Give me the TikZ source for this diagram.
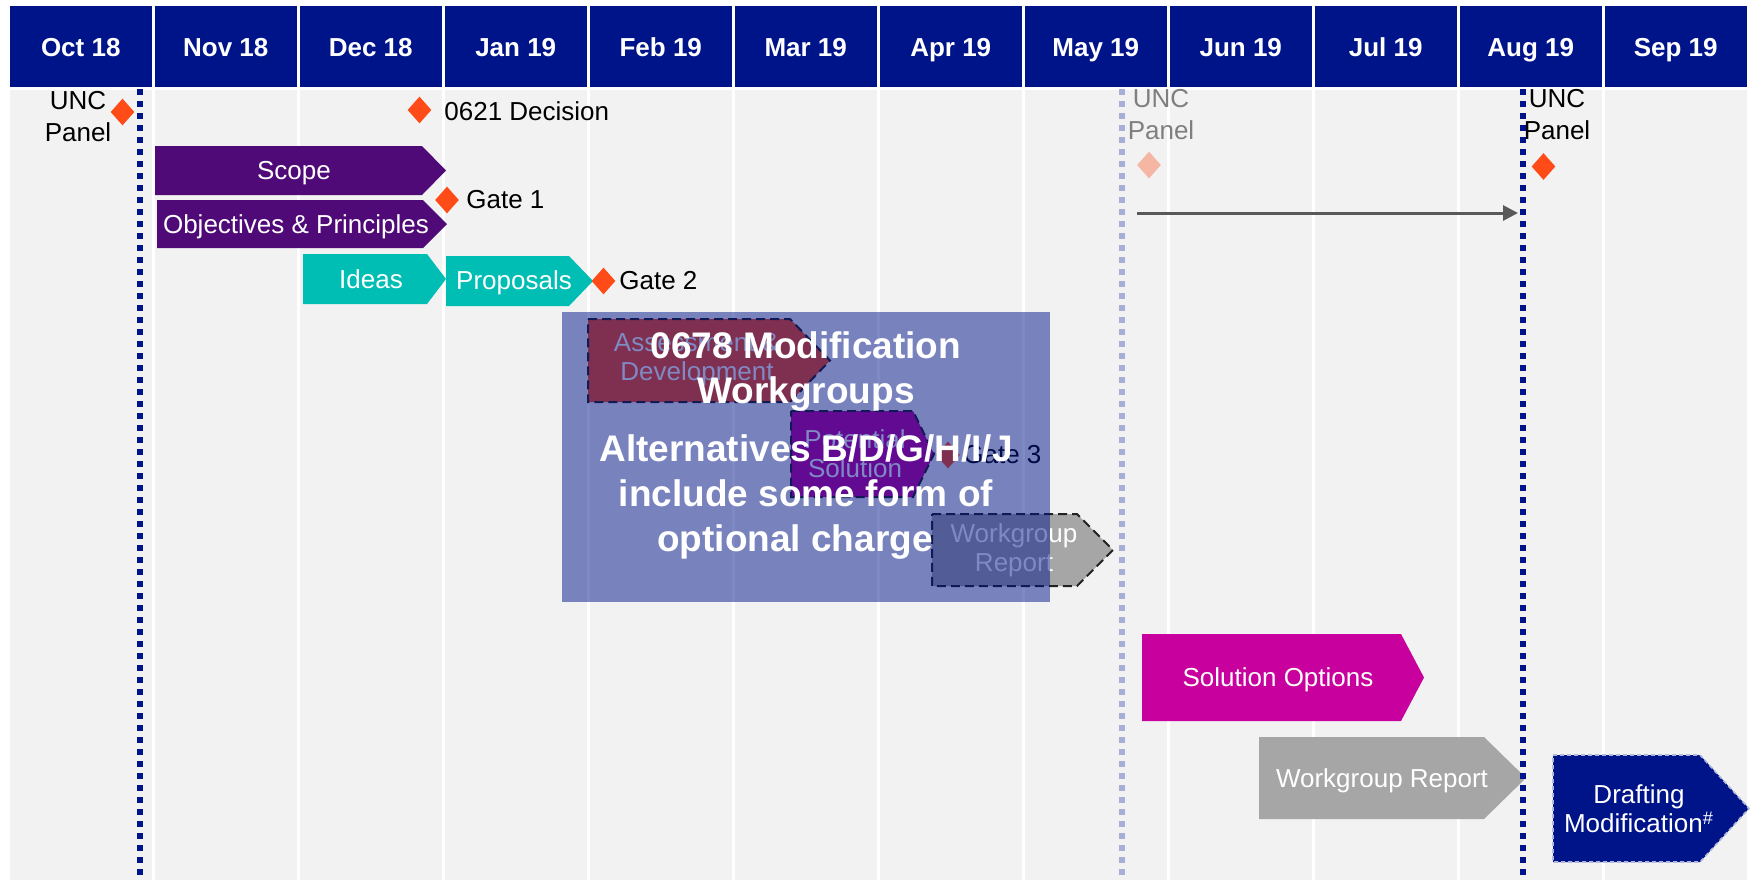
\documentclass[tikz,border=0pt]{standalone}
\usepackage{fontspec}
\setmainfont{Liberation Sans}
\usetikzlibrary{shapes.geometric,arrows.meta}
\definecolor{navy}{HTML}{001489}
\definecolor{bggrey}{HTML}{F2F2F2}
\definecolor{plum}{HTML}{500A78}
\definecolor{tealc}{HTML}{00BEB3}
\definecolor{orng}{HTML}{FF4B17}
\definecolor{pale}{HTML}{F5B6A4}
\definecolor{mag}{HTML}{C8009E}
\definecolor{midgrey}{HTML}{A6A6A6}
\definecolor{arrgrey}{HTML}{595959}
\definecolor{fadetxt}{HTML}{7F7F7F}
\definecolor{fadeline}{HTML}{A8AFD7}
\definecolor{dashc}{HTML}{222222}
\tikzset{
  hdr/.style={fill=navy, text=white, font=\fontsize{13}{15}\selectfont\bfseries,
    minimum width=71.25pt, minimum height=40.75pt, inner sep=0pt,
    text height=9.3pt, text depth=0pt},
  lbl/.style={font=\fontsize{13}{15}\selectfont, inner sep=0pt},
  twolbl/.style={font=\fontsize{13}{16}\selectfont, inner sep=0pt, align=center},
  boxtxt/.style={font=\fontsize{13}{14.5}\selectfont, text=white, align=center, inner sep=0pt},
  oneline/.style={text height=9.3pt, text depth=0pt},
  ms/.style={diamond, fill=orng, minimum width=12pt, minimum height=13.5pt, inner sep=0pt},
  dotline/.style={line width=3pt, dash pattern=on 2.75pt off 3.25pt},
  dashbox/.style={draw=dashc, line width=1pt, dash pattern=on 4.5pt off 2.5pt},
  draftbox/.style={fill=navy, draw=white!70!navy, line width=0.8pt, dash pattern=on 2pt off 1.5pt},
  ovlbox/.style={fill=navy, fill opacity=0.5, inner sep=0pt},
  ovltext/.style={font=\fontsize{18.5}{22.5}\selectfont\bfseries, text=white, align=center, inner sep=0pt},
  conn/.style={arrgrey, line width=1.5pt, -{Triangle[length=7.5pt,width=7.5pt]}}
}
\newcommand\chevron[6]{%
  \path[#1] (#2,#5) -- (#3,#5) -- (#4,{(#5+#6)/2}) -- (#3,#6) -- (#2,#6) -- cycle;}
\begin{document}
\begin{tikzpicture}[x=0.5pt,y=-0.5pt]
\useasboundingbox (0,0) rectangle (1753,880);
\fill[white] (0,0) rectangle (1753,880);
% columns and header
\foreach \m [count=\i from 0] in {Oct 18,Nov 18,Dec 18,Jan 19,Feb 19,Mar 19,Apr 19,May 19,Jun 19,Jul 19,Aug 19,Sep 19} {
  \fill[bggrey] ({9.5+145*\i},89.5) rectangle ({152+145*\i},880);
  \fill[navy] ({9.5+145*\i},5.5) rectangle ({152+145*\i},87);
  \node[hdr, fill=none] (h\i) at ({80.75+145*\i},47) {\m};
}
% chevrons
\chevron{fill=plum}{155}{422}{446}{146}{195}
\node[boxtxt, oneline] (scope) at (294,170.5) {Scope};
\chevron{fill=plum}{157}{423}{447}{200}{248}
\node[boxtxt, oneline] (obj) at (296,224) {Objectives \& Principles};
\chevron{fill=tealc}{303}{427}{446}{254}{304}
\node[boxtxt, oneline] (ideas) at (371,279) {Ideas};
\chevron{fill=tealc}{446}{569}{593}{256}{306}
\node[boxtxt, oneline] (prop) at (514,280) {Proposals};
\chevron{fill=orng,dashbox}{588}{790}{830}{319}{402}
\node[boxtxt] (assess) at (697,360) {Assessment \&\\Development};
\chevron{fill=mag,dashbox}{791}{913}{934}{411}{497}
\node[boxtxt] (potsol) at (855,454) {Potential\\Solution};
\chevron{fill=midgrey,dashbox}{932}{1077}{1113}{514}{586}
\node[boxtxt] (wgr1) at (1014,550) {Workgroup\\Report};
\chevron{fill=mag}{1142}{1401}{1424}{634}{721}
\node[boxtxt, oneline] (solopt) at (1278,677.5) {Solution Options};
\chevron{fill=midgrey}{1259}{1484}{1526}{737}{819}
\node[boxtxt, oneline] (wgr2) at (1382,778) {Workgroup Report};
\chevron{draftbox}{1553}{1700}{1749}{755}{862}
\node[boxtxt] (draft) at (1639,809) {Drafting\\Modification\textsuperscript{\#}};
% milestones
\node[ms] (d1) at (122.5,112) {};
\node[ms] (d2) at (419.5,110) {};
\node[ms] (d3) at (447,200) {};
\node[ms] (d4) at (603.5,281) {};
\node[ms] (d5) at (948,455) {};
\node[ms, fill=pale] (d6) at (1149,165) {};
\node[ms] (d7) at (1543.5,166.5) {};
\node[twolbl] (unc1) at (78,116.5) {UNC\\Panel};
\node[lbl, anchor=west] (dec) at (444,111) {0621 Decision};
\node[lbl, anchor=west] (g1) at (466,200) {Gate 1};
\node[lbl, anchor=west] (g2) at (619,281) {Gate 2};
\node[lbl, anchor=west] (g3) at (963,455) {Gate 3};
\node[twolbl, text=fadetxt] (unc2) at (1161,115) {UNC\\Panel};
\node[twolbl] (unc3) at (1557,115) {UNC\\Panel};
% dotted lines
\draw[dotline, navy] (140,89) -- (140,880);
\draw[dotline, fadeline] (1122,89) -- (1122,880);
\draw[dotline, navy] (1523,89) -- (1523,880);
% arrow
\coordinate (as) at (1137,213);
\coordinate (ae) at (1518,213);
\draw[conn] (as) -- (ae);
% overlay
\node[ovlbox, minimum width=244pt, minimum height=145pt, anchor=north west] (ovl) at (562,312) {};
\node[ovltext] (ovltxt) at (806,446) {0678 Modification\\Workgroups\\[6.5pt]Alternatives B/D/G/H/I/J\\include some form of\\optional charge\hspace*{11pt}};
\end{tikzpicture}
\end{document}
